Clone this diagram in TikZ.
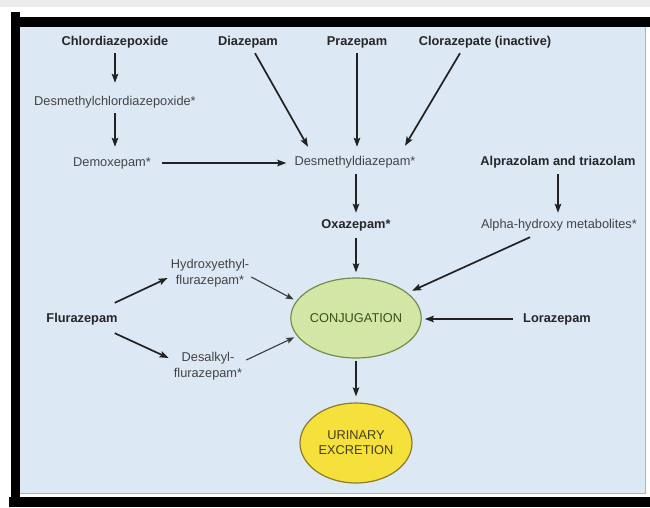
\documentclass[tikz,border=0pt]{standalone}
\usepackage{fontspec}
\setmainfont{Liberation Sans}
\usetikzlibrary{arrows.meta,shapes.geometric,calc}
\definecolor{bg}{HTML}{DDE8F5}
\definecolor{topgray}{HTML}{ECECEC}
\definecolor{txtdark}{HTML}{262626}
\definecolor{txtreg}{HTML}{444444}
\definecolor{arrcol}{HTML}{222222}
\definecolor{thincol}{HTML}{3A3A3A}
\definecolor{confill}{HTML}{D3E6A6}
\definecolor{condraw}{HTML}{6F8F4F}
\definecolor{contxt}{HTML}{35501F}
\definecolor{urifill}{HTML}{F6E03C}
\definecolor{uridraw}{HTML}{8C7B2A}
\definecolor{uritxt}{HTML}{45401C}
\tikzset{
  boldlbl/.style={font=\fontsize{12.8}{14}\selectfont\bfseries, text=txtdark, inner sep=0pt, text height=9.5pt, text depth=2.5pt},
  reglbl/.style={font=\fontsize{12.8}{14}\selectfont, text=txtreg, inner sep=0pt, text height=9.5pt, text depth=2.5pt},
  twolbl/.style={font=\fontsize{12.8}{16.5}\selectfont, text=txtreg, inner sep=0pt, align=center},
  arr/.style={draw=arrcol, line width=1.7pt, -{Stealth[length=9pt,width=6.5pt,inset=1.5pt]}},
  thinarr/.style={draw=thincol, line width=1.1pt, -{Stealth[length=8pt,width=6pt,inset=1.5pt]}},
  conell/.style={ellipse, fill=confill, draw=condraw, line width=1.2pt, minimum width=112pt, minimum height=80pt, inner sep=0pt, font=\fontsize{12.8}{14}\selectfont, text=contxt},
  uriell/.style={ellipse, fill=urifill, draw=uridraw, line width=1.2pt, minimum width=112pt, minimum height=80pt, inner sep=0pt, align=center, font=\fontsize{12.8}{15}\selectfont, text=uritxt}
}
\begin{document}
\begin{tikzpicture}[x=1pt,y=-1pt]
\useasboundingbox (0,0) rectangle (650,507);
% frame
\fill[white] (0,0) rectangle (650,507);
\fill[topgray] (0,0) rectangle (650,7);
\fill[bg] (20,27) rectangle (645,493);
\draw[gray!60, line width=0.8pt] (645,27) -- (645,493) -- (20,493);
\fill[black] (11,17) rectangle (650,27);
\fill[black] (11,12) rectangle (20,507);
\fill[black] (9,497) rectangle (650,507);

% nodes
\node[boldlbl] (chl) at (115,42) {Chlordiazepoxide};
\node[boldlbl] (dia) at (248,42) {Diazepam};
\node[boldlbl] (pra) at (357,42) {Prazepam};
\node[boldlbl] (clo) at (485,42) {Clorazepate (inactive)};
\node[reglbl] (dmc) at (115,102) {Desmethylchlordiazepoxide*};
\node[reglbl] (dem) at (112,163) {Demoxepam*};
\node[reglbl] (dmd) at (355,162) {Desmethyldiazepam*};
\node[boldlbl] (alp) at (558,162) {Alprazolam and triazolam};
\node[boldlbl] (oxa) at (356,225) {Oxazepam*};
\node[reglbl] (aoh) at (559,225) {Alpha-hydroxy metabolites*};
\node[twolbl] (hyd) at (210,273) {Hydroxyethyl-\\flurazepam*};
\node[boldlbl] (flu) at (82,319) {Flurazepam};
\node[twolbl] (des) at (208,366) {Desalkyl-\\flurazepam*};
\node[conell] (con) at (356,318) {CONJUGATION};
\node[boldlbl] (lor) at (557,319) {Lorazepam};
\node[uriell] (uri) at (356,443) {URINARY\\EXCRETION};

% connectors
\draw[arr, shorten <=5pt, shorten >=13pt] (chl) -- (dmc);
\draw[arr, shorten <=5pt, shorten >=10pt] (dmc.south) -- (dmc.south |- dem.north);
\draw[arr, shorten <=11pt, shorten >=8pt] (dem.east) -- (dem.east -| dmd.west);
\draw[arr] ([xshift=7pt,yshift=-5pt]dia.south) -- ([xshift=-47pt,yshift=9pt]dmd.north);
\draw[arr, shorten <=5pt, shorten >=9pt] (pra.south) -- (pra.south |- dmd.north);
\draw[arr] ([xshift=-25pt,yshift=-5pt]clo.south) -- ([xshift=50pt,yshift=10pt]dmd.north);
\draw[arr, shorten <=6pt, shorten >=6pt] (dmd.south -| oxa.north) -- (oxa.north);
\draw[arr, shorten <=6pt, shorten >=6pt] (alp.south) -- (alp.south |- aoh.north);
\draw[arr, shorten <=7pt, shorten >=5pt] (oxa.south) -- (oxa.south |- con.north);
\draw[arr, shorten >=5pt] ([xshift=-29pt,yshift=-6pt]aoh.south) -- (con.26);
\draw[arr, shorten <=10pt, shorten >=3pt] (lor.west) -- (lor.west -| con.east);
\draw[arr, shorten <=2pt, shorten >=6pt] (con.south) -- (uri.north);
\draw[arr] ([xshift=-3pt,yshift=10pt]flu.north east) -- ([xshift=-3pt,yshift=-5pt]hyd.west);
\draw[arr] ([xshift=-3pt,yshift=-8pt]flu.south east) -- ([xshift=-5pt,yshift=8pt]des.west);
\draw[thinarr, shorten >=3pt] ([xshift=2pt,yshift=-4pt]hyd.east) -- (con.164);
\draw[thinarr, shorten >=3pt] ([xshift=4pt,yshift=6pt]des.east) -- (con.197);
\end{tikzpicture}
\end{document}
